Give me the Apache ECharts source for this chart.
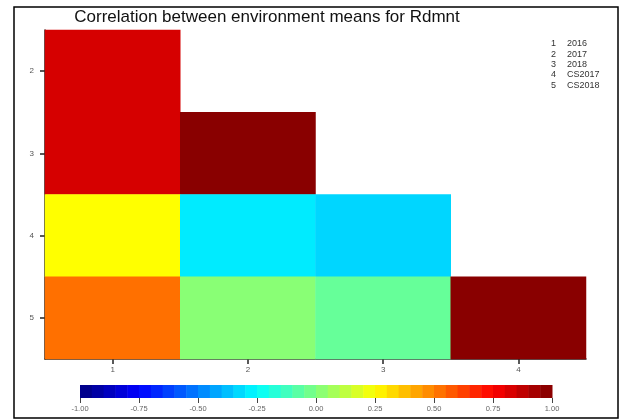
<!DOCTYPE html>
<html>
<head>
<meta charset="utf-8">
<script src="https://cdn.jsdelivr.net/npm/echarts@6/dist/echarts.min.js"></script>
<style>
html,body{margin:0;padding:0;background:#fff;}
#chart{width:621px;height:419px;}
</style>
</head>
<body>
<div id="chart"></div>
<script>
// ---- data ----
const xCategories = ['1', '2', '3', '4'];
const yCategories = ['2', '3', '4', '5'];
const envIds = ['1', '2', '3', '4', '5'];
const envNames = ['2016', '2017', '2018', 'CS2017', 'CS2018'];
const row2 = [0.83, null, null, null];
const row3 = [0.83, 0.98, null, null];
const row4 = [0.25, -0.29, -0.33, null];
const row5 = [0.53, 0.02, -0.05, 0.98];
const colorTicks = [-1, -0.75, -0.5, -0.25, 0, 0.25, 0.5, 0.75, 1];
const jetStops = ['#00007F', '#0000FF', '#007FFF', '#00FFFF', '#7FFF7F', '#FFFF00', '#FF7F00', '#FF0000', '#7F0000'];
const nBins = 40;

// ---- build ----
function hex(c){return [parseInt(c.slice(1,3),16),parseInt(c.slice(3,5),16),parseInt(c.slice(5,7),16)];}
function jet(v){ // v in [-1,1]
  const t = (v + 1) / 2 * (jetStops.length - 1);
  const i = Math.min(Math.floor(t), jetStops.length - 2);
  const f = t - i;
  const a = hex(jetStops[i]), b = hex(jetStops[i+1]);
  const c = a.map((x,k)=>Math.round(x + (b[k]-x)*f));
  return 'rgb(' + c.join(',') + ')';
}
const binW = 2 / nBins;
const binData = [];
for (let i = 0; i < nBins; i++) {
  const lo = -1 + i * binW, hi = lo + binW;
  binData.push([lo, hi, jet(lo + binW / 2)]);
}
const rows = [row2, row3, row4, row5];
const heatData = [];
rows.forEach((r, yi) => r.forEach((v, xi) => { if (v !== null) heatData.push([xi, yi, v]); }));

const chart = echarts.init(document.getElementById('chart'));
const font = 'Liberation Sans, Arial, sans-serif';
const graphics = [
  {type: 'rect', shape: {x: 14, y: 7, width: 604, height: 411}, style: {fill: 'none', stroke: '#000', lineWidth: 1.5}, silent: true},
  {type: 'text', x: 267, y: 17, style: {text: 'Correlation between environment means for Rdmnt', font: '17px ' + font, fill: '#111', align: 'center', verticalAlign: 'middle'}}
];
envIds.forEach((id, i) => {
  graphics.push({type: 'text', x: 551, y: 44 + i * 10.3, style: {text: id, font: '9px ' + font, fill: '#333', align: 'left', verticalAlign: 'middle'}});
  graphics.push({type: 'text', x: 567, y: 44 + i * 10.3, style: {text: envNames[i], font: '9px ' + font, fill: '#333', align: 'left', verticalAlign: 'middle'}});
});

chart.setOption({
  animation: false,
  backgroundColor: '#fff',
  graphic: graphics,
  grid: [
    {left: 45, top: 30, width: 541, height: 329},
    {left: 80, top: 385, width: 472, height: 13}
  ],
  xAxis: [
    {type: 'category', gridIndex: 0, data: xCategories,
     axisLine: {show: true, lineStyle: {color: '#222', width: 1.5}},
     axisTick: {show: true, alignWithLabel: true, length: 5, lineStyle: {color: '#222', width: 1.5}},
     axisLabel: {color: '#555', fontSize: 8, fontFamily: font, margin: 7},
     splitLine: {show: false}},
    {type: 'value', gridIndex: 1, min: -1, max: 1, interval: 0.25,
     axisLine: {show: false},
     axisTick: {show: true, length: 5, lineStyle: {color: '#444'}},
     axisLabel: {color: '#666', fontSize: 7.5, fontFamily: font, margin: 7, formatter: v => v.toFixed(2)},
     splitLine: {show: false}}
  ],
  yAxis: [
    {type: 'category', gridIndex: 0, data: yCategories, inverse: true,
     axisLine: {show: true, lineStyle: {color: '#222', width: 1.5}},
     axisTick: {show: true, alignWithLabel: true, length: 5, lineStyle: {color: '#222', width: 1.5}},
     axisLabel: {color: '#555', fontSize: 8, fontFamily: font, margin: 11},
     splitLine: {show: false}},
    {type: 'value', gridIndex: 1, min: 0, max: 1, show: false}
  ],
  visualMap: {
    type: 'continuous', show: false, seriesIndex: 0, dimension: 2, min: -1, max: 1,
    inRange: {color: jetStops}
  },
  series: [
    {type: 'heatmap', xAxisIndex: 0, yAxisIndex: 0, data: heatData, itemStyle: {borderWidth: 0}},
    {type: 'custom', xAxisIndex: 1, yAxisIndex: 1, data: binData, silent: true,
     encode: {x: [0, 1]},
     renderItem: function (params, api) {
       const p0 = api.coord([api.value(0), 1]);
       const p1 = api.coord([api.value(1), 0]);
       return {type: 'rect', shape: {x: p0[0], y: p0[1], width: p1[0] - p0[0] + 0.5, height: p1[1] - p0[1]},
               style: {fill: binData[params.dataIndex][2]}};
     }}
  ]
});
</script>
</body>
</html>
